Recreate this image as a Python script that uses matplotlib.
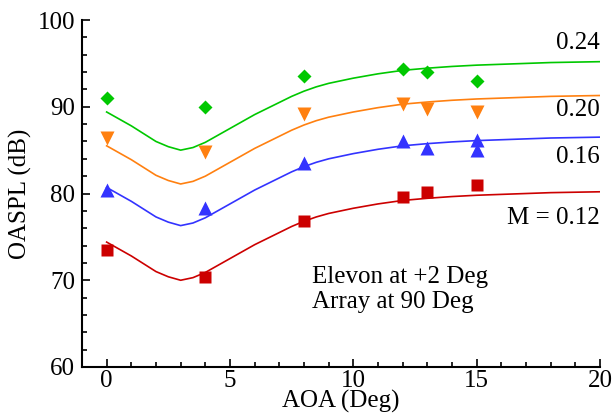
import matplotlib
matplotlib.use("Agg")
import matplotlib.pyplot as plt
from matplotlib.ticker import MultipleLocator

plt.rcParams['font.family'] = ['Liberation Serif', 'DejaVu Serif']

# measured points (AOA in deg, OASPL in dB)
aoa = [0, 4, 8, 12, 13, 15]
spl_024 = [91.0, 90.0, 93.5, 94.4, 94.0, 93.0]
spl_020 = [86.4, 84.8, 89.2, 90.3, 89.7, 89.4]
spl_016 = [80.4, 78.3, 83.5, 86.0, 85.3, 86.2]
spl_016_extra_x = [15]
spl_016_extra = [85.0]
spl_012 = [73.5, 70.4, 76.8, 79.6, 80.2, 81.0]

# fitted curves
fit_aoa = [0, 0.5, 1, 1.5, 2, 2.5, 3, 3.5, 4, 4.5, 5, 5.5, 6, 6.5, 7, 7.5, 8, 8.5, 9, 9.5, 10,
           11, 12, 13, 14, 15, 16, 17, 18, 19, 20]
fit_024 = [89.4, 88.6, 87.8, 86.9, 86.0, 85.4, 85.0, 85.3, 85.9, 86.7, 87.5, 88.3, 89.1, 89.8,
           90.5, 91.2, 91.8, 92.3, 92.7, 93.0, 93.3, 93.8, 94.2, 94.45, 94.65, 94.8, 94.9,
           95.0, 95.1, 95.15, 95.2]
fit_020 = [85.5, 84.7, 83.9, 83.0, 82.1, 81.5, 81.1, 81.4, 82.0, 82.8, 83.6, 84.4, 85.2, 85.9,
           86.6, 87.3, 87.9, 88.4, 88.8, 89.1, 89.4, 89.9, 90.3, 90.55, 90.75, 90.9, 91.0,
           91.1, 91.2, 91.25, 91.3]
fit_016 = [80.7, 79.9, 79.1, 78.2, 77.3, 76.7, 76.3, 76.6, 77.2, 78.0, 78.8, 79.6, 80.4, 81.1,
           81.8, 82.5, 83.1, 83.6, 84.0, 84.3, 84.6, 85.1, 85.5, 85.75, 85.95, 86.1, 86.2,
           86.3, 86.4, 86.45, 86.5]
fit_012 = [74.4, 73.6, 72.8, 71.9, 71.0, 70.4, 70.0, 70.3, 70.9, 71.7, 72.5, 73.3, 74.1, 74.8,
           75.5, 76.2, 76.8, 77.3, 77.7, 78.0, 78.3, 78.8, 79.2, 79.45, 79.65, 79.8, 79.9,
           80.0, 80.1, 80.15, 80.2]

green = '#00c800'
orange = '#ff8010'
blue = '#3333ff'
red = '#cc0000'

fig = plt.figure(figsize=(6.15, 4.15), dpi=100)
ax = fig.add_axes([0.1333, 0.1157, 0.8423, 0.836])

# curves
for ys, c in [(fit_024, green), (fit_020, orange), (fit_016, blue), (fit_012, red)]:
    ax.plot(fit_aoa, ys, color=c, lw=1.2, solid_joinstyle='round')

# data markers
ax.plot(aoa, spl_024, 'D', color=green, ms=7, mec='none', clip_on=False)
ax.plot(aoa, spl_020, 'v', color=orange, ms=10, mec='none', clip_on=False)
ax.plot(aoa, spl_016, '^', color=blue, ms=10, mec='none', clip_on=False)
ax.plot(spl_016_extra_x, spl_016_extra, '^', color=blue, ms=10, mec='none')
ax.plot(aoa, spl_012, 's', color=red, ms=8.5, mec='none', clip_on=False)

# labels on curves
fs = 18
ax.text(20, 97.35, '0.24', ha='right', va='center', fontsize=fs)
ax.text(20, 89.6, '0.20', ha='right', va='center', fontsize=fs)
ax.text(20, 84.2, '0.16', ha='right', va='center', fontsize=fs)
ax.text(20, 77.2, 'M = 0.12', ha='right', va='center', fontsize=fs)
ax.text(8.34, 70.4, 'Elevon at +2 Deg', ha='left', va='center', fontsize=fs)
ax.text(8.34, 67.5, 'Array at 90 Deg', ha='left', va='center', fontsize=fs)

ax.set_xlim(-1, 20)
ax.set_ylim(60, 100)
ax.xaxis.set_major_locator(MultipleLocator(5))
ax.xaxis.set_minor_locator(MultipleLocator(1))
ax.yaxis.set_major_locator(MultipleLocator(10))
ax.yaxis.set_minor_locator(MultipleLocator(2))

ax.spines['top'].set_visible(False)
ax.spines['right'].set_visible(False)
ax.spines['left'].set_linewidth(1.5)
ax.spines['bottom'].set_linewidth(1.5)
ax.tick_params(which='both', direction='in', labelsize=fs, width=1.2)
ax.tick_params(which='major', length=6, pad=5)
ax.tick_params(axis='x', which='major', pad=2.5)
ax.tick_params(which='minor', length=3.5)

ax.set_xlabel('AOA (Deg)', fontsize=fs, labelpad=-1.5)
ax.set_ylabel('OASPL (dB)', fontsize=fs, labelpad=4)

fig.savefig('out.png', dpi=100)
